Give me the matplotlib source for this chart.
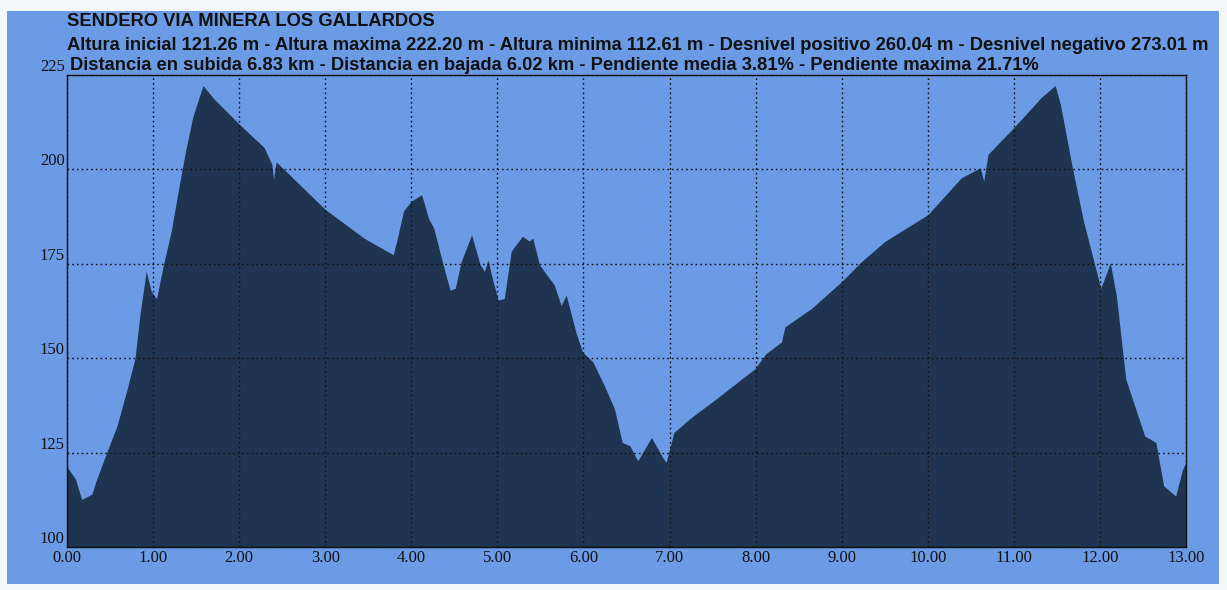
import matplotlib
matplotlib.use("Agg")
import matplotlib.pyplot as plt
from matplotlib.patches import Rectangle

# ---- data (distance km, altitude m) ----
dist_km = [0.00, 0.10, 0.17, 0.29, 0.33, 0.46, 0.58, 0.71, 0.79, 0.85, 0.92, 0.98,
           1.04, 1.12, 1.21, 1.29, 1.37, 1.46, 1.56, 1.58, 1.71, 2.00, 2.29, 2.38,
           2.40, 2.43, 3.00, 3.45, 3.79, 3.83, 3.91, 4.00, 4.12, 4.20, 4.26, 4.37,
           4.45, 4.51, 4.58, 4.70, 4.80, 4.85, 4.89, 4.95, 5.01, 5.08, 5.16, 5.29,
           5.37, 5.41, 5.49, 5.66, 5.74, 5.80, 5.91, 5.99, 6.11, 6.24, 6.36, 6.45,
           6.54, 6.63, 6.79, 6.92, 6.96, 7.05, 7.23, 7.54, 7.99, 8.12, 8.30, 8.34,
           8.65, 9.00, 9.23, 9.50, 10.00, 10.39, 10.61, 10.65, 10.70, 11.00, 11.32,
           11.48, 11.54, 11.68, 11.81, 11.94, 12.01, 12.12, 12.19, 12.30, 12.52,
           12.65, 12.74, 12.88, 12.96, 13.00]
alt_m = [121.3, 117.9, 112.6, 114.0, 117.0, 125.0, 132.0, 142.8, 150.0, 162.0, 173.0, 167.6,
         165.8, 174.7, 183.6, 194.0, 204.0, 213.8, 220.9, 222.2, 218.6, 212.0, 205.8, 201.3,
         197.5, 202.0, 189.4, 181.8, 177.4, 181.0, 189.0, 191.6, 193.3, 187.0, 184.5, 174.7,
         168.0, 168.5, 175.6, 182.7, 174.7, 173.0, 176.0, 170.3, 165.4, 165.8, 178.3, 182.3,
         181.0, 181.8, 174.7, 169.4, 164.0, 166.7, 157.0, 151.6, 149.0, 142.8, 136.6, 127.7,
         126.8, 122.8, 129.0, 123.7, 122.4, 130.3, 133.9, 139.2, 147.2, 151.2, 154.3, 158.3,
         163.2, 170.3, 175.6, 180.9, 188.0, 197.8, 200.4, 196.9, 204.0, 211.1, 219.1,
         222.2, 217.3, 200.4, 186.2, 174.7, 168.5, 175.2, 166.7, 144.5, 129.4,
         127.7, 116.2, 113.5, 120.6, 122.4]

x_ticks = [0, 1, 2, 3, 4, 5, 6, 7, 8, 9, 10, 11, 12, 13]
y_ticks = [100, 125, 150, 175, 200, 225]

title = "SENDERO VIA MINERA LOS GALLARDOS"
line2 = ("Altura inicial 121.26 m - Altura maxima 222.20 m - Altura minima 112.61 m - "
         "Desnivel positivo 260.04 m - Desnivel negativo 273.01 m")
line3 = ("Distancia en subida 6.83 km - Distancia en bajada 6.02 km - "
         "Pendiente media 3.81% - Pendiente maxima 21.71%")

BG = "#6c9be6"
FILL = "#1e3450"

W, H = 1227, 590
fig = plt.figure(figsize=(W / 100, H / 100), dpi=100)
fig.patch.set_facecolor("#f4f6fa")

# blue panel
fig.patches.append(Rectangle((7 / W, 1 - 584 / H), (1219 - 7) / W, (584 - 11) / H,
                             transform=fig.transFigure, facecolor=BG, edgecolor="none",
                             zorder=-10))

ax = fig.add_axes([67 / W, 1 - 547 / H, (1186 - 67) / W, (547 - 75) / H])
ax.set_zorder(1)
ax.set_facecolor(BG)
ax.fill_between(dist_km, alt_m, 100, color=FILL, linewidth=0, zorder=2)
ax.set_xlim(0, 13)
ax.set_ylim(100, 225)

ax.set_xticks(x_ticks)
ax.set_yticks(y_ticks)
ax.set_xticklabels([f"{v:.2f}" for v in x_ticks])
ax.set_yticklabels([])
ax.tick_params(axis="both", length=0)
ax.tick_params(axis="x", pad=2, labelsize=12, labelcolor="#111111")
for lab in ax.get_xticklabels():
    lab.set_family("Liberation Serif")

for yv in y_ticks:
    ax.text(-0.002, yv, str(yv), ha="right", va="bottom", fontsize=12,
            family="Liberation Serif", color="#111111",
            transform=ax.get_yaxis_transform())

ax.grid(True, color="#111111", linestyle=(0, (1.2, 2.2)), linewidth=1.0, zorder=3)
ax.set_axisbelow(False)
for sp in ax.spines.values():
    sp.set_color("#111111")
    sp.set_linewidth(1.0)
    sp.set_zorder(4)

fs = 13.2
fig.text(67 / W, 1 - 22 / H, title, ha="left", va="center", fontsize=fs,
         fontweight="bold", family="Liberation Sans", color="#111111", zorder=5)
fig.text(67 / W, 1 - 45 / H, line2, ha="left", va="center", fontsize=fs,
         fontweight="bold", family="Liberation Sans", color="#111111", zorder=5)
fig.text(70 / W, 1 - 66 / H, line3, ha="left", va="center", fontsize=fs,
         fontweight="bold", family="Liberation Sans", color="#111111", zorder=5)

fig.savefig("out.png", dpi=100, facecolor=fig.get_facecolor())
